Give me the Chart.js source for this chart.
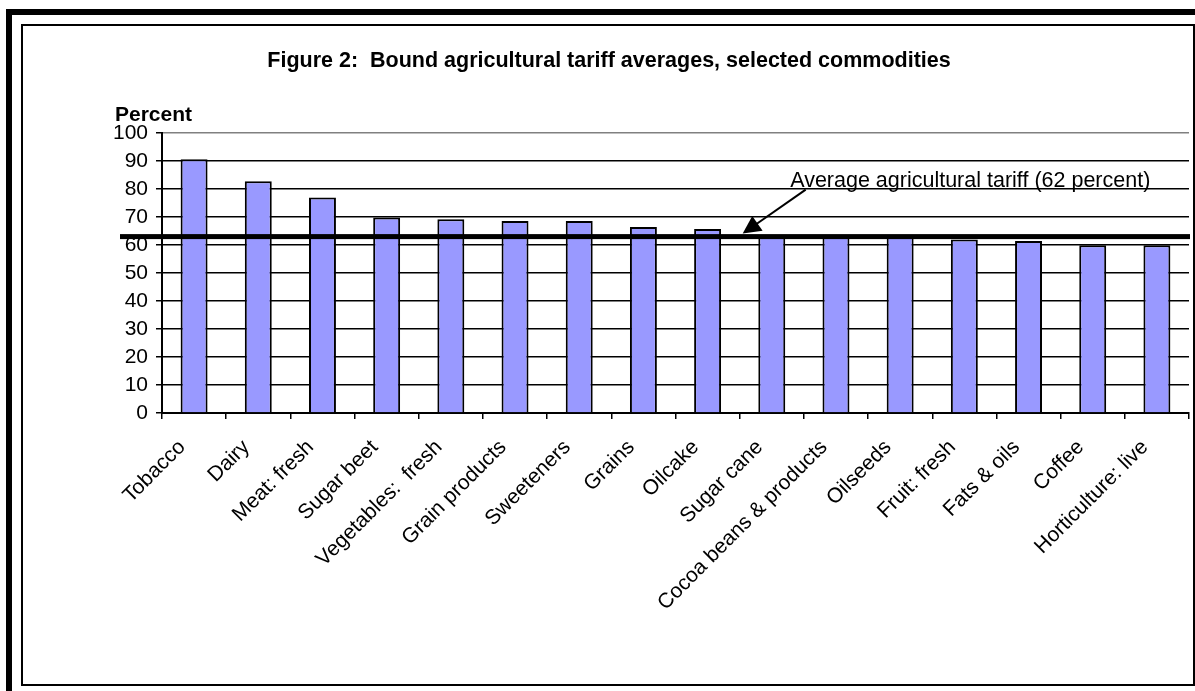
<!DOCTYPE html>
<html>
<head>
<meta charset="utf-8">
<title>Bound agricultural tariff averages</title>
<script src="https://cdn.jsdelivr.net/npm/chart.js@4.4.0/dist/chart.umd.min.js"></script>
<style>
  html, body { margin: 0; padding: 0; background: #fff; overflow: hidden; }
  body { width: 1195px; height: 691px; position: relative; }
  #outer { position: absolute; left: 6px; top: 9px; width: 1300px; height: 800px;
           border-left: 6px solid #000; border-top: 6px solid #000; }
  #inner { position: absolute; left: 21px; top: 24px; width: 1174px; height: 662px;
           border: 2px solid #000; box-sizing: border-box; background: #fff; }
  #wrap { position: absolute; left: 23px; top: 26px; width: 1170px; height: 658px; }
</style>
</head>
<body>
<div id="outer"></div>
<div id="inner"></div>
<div id="wrap"><canvas id="tariffChart"></canvas></div>
<script>
// data
const commodities = [
    "Tobacco", "Dairy", "Meat: fresh", "Sugar beet", "Vegetables:  fresh",
    "Grain products", "Sweeteners", "Grains", "Oilcake", "Sugar cane",
    "Cocoa beans & products", "Oilseeds", "Fruit: fresh", "Fats & oils",
    "Coffee", "Horticulture: live",
];
const tariffs = [90.6, 82.8, 77.0, 69.8, 69.2, 68.6, 68.6, 66.4, 65.7, 63.5, 63.3, 63.2, 62.0, 61.4, 59.9, 59.9];
const avgTariff = 63;
const yTicks = [0, 10, 20, 30, 40, 50, 60, 70, 80, 90, 100];

const titleText = "Figure 2:  Bound agricultural tariff averages, selected commodities";
const avgLabel = "Average agricultural tariff (62 percent)";

Chart.defaults.font.family = "'Liberation Sans', Arial, sans-serif";
Chart.defaults.font.size = 21;
Chart.defaults.color = "#000";

// thick average line, arrow and the loose texts
const overlay = {
    id: "overlay",
    afterDatasetsDraw(chart) {
        const { ctx, chartArea } = chart;
        const x = chart.scales.x;
        const y = chart.scales.y;
        const yAvg = y.getPixelForValue(avgTariff);
        ctx.save();
        ctx.fillStyle = "#000";
        ctx.fillRect(chartArea.left - 42, yAvg - 2.5, chartArea.right - chartArea.left + 43, 5);

        // arrow
        const tipX = x.getPixelForValue(8.5) + 3;
        const tipY = yAvg - 3;
        const sx = tipX + 63, sy = tipY - 44;
        const len = Math.hypot(sx - tipX, sy - tipY);
        const ux = (sx - tipX) / len, uy = (sy - tipY) / len;
        ctx.strokeStyle = "#000";
        ctx.lineWidth = 2;
        ctx.beginPath();
        ctx.moveTo(sx, sy);
        ctx.lineTo(tipX + ux * 12, tipY + uy * 12);
        ctx.stroke();
        const bx = tipX + ux * 18, by = tipY + uy * 18;
        ctx.beginPath();
        ctx.moveTo(tipX, tipY);
        ctx.lineTo(bx - uy * 9, by + ux * 9);
        ctx.lineTo(bx + uy * 9, by - ux * 9);
        ctx.closePath();
        ctx.fill();

        ctx.font = "21.5px 'Liberation Sans', Arial, sans-serif";
        ctx.textAlign = "left";
        ctx.textBaseline = "alphabetic";
        ctx.fillText(avgLabel, x.getPixelForValue(8.5) + 50.5, yAvg - 50);

        ctx.font = "bold 21px 'Liberation Sans', Arial, sans-serif";
        ctx.fillText("Percent", chartArea.left - 47, chartArea.top - 12);

        ctx.font = "bold 21.5px 'Liberation Sans', Arial, sans-serif";
        ctx.textAlign = "center";
        ctx.fillText(titleText, chart.width / 2 + 1, 40.7);
        ctx.restore();
    },
};

new Chart(document.getElementById("tariffChart"), {
    type: "bar",
    data: {
        labels: commodities,
        datasets: [
            {
                data: tariffs,
                backgroundColor: "#9999ff",
                borderColor: "#000",
                borderWidth: 2,
                barPercentage: 0.42,
                categoryPercentage: 1,
            },
        ],
    },
    options: {
        responsive: true,
        maintainAspectRatio: false,
        animation: false,
        layout: { padding: { top: 107, right: 4, left: 0, bottom: 0 } },
        plugins: {
            legend: { display: false },
            tooltip: { enabled: false },
            title: { display: false },
        },
        scales: {
            x: {
                afterFit: (scale) => { scale.height = 271; },
                border: { color: "#000", width: 2 },
                grid: {
                    display: true,
                    drawOnChartArea: false,
                    drawTicks: true,
                    tickLength: 6,
                    color: "#000",
                    lineWidth: 1.5,
                    offset: true,
                },
                ticks: {
                    autoSkip: false,
                    minRotation: 45,
                    maxRotation: 45,
                    padding: 16,
                    labelOffset: -12,
                    color: "#000",
                },
            },
            y: {
                min: 0,
                max: 100,
                afterFit: (scale) => { scale.width = 139; },
                afterBuildTicks: (scale) => { scale.ticks = yTicks.map((v) => ({ value: v })); },
                border: { color: "#000", width: 2 },
                grid: {
                    color: (c) => (c.tick && c.tick.value === 100 ? "#808080" : "#000"),
                    tickColor: "#000",
                    lineWidth: 1.5,
                    tickLength: 6,
                },
                ticks: { autoSkip: false, padding: 8, color: "#000" },
            },
        },
    },
    plugins: [overlay],
});
</script>
</body>
</html>
